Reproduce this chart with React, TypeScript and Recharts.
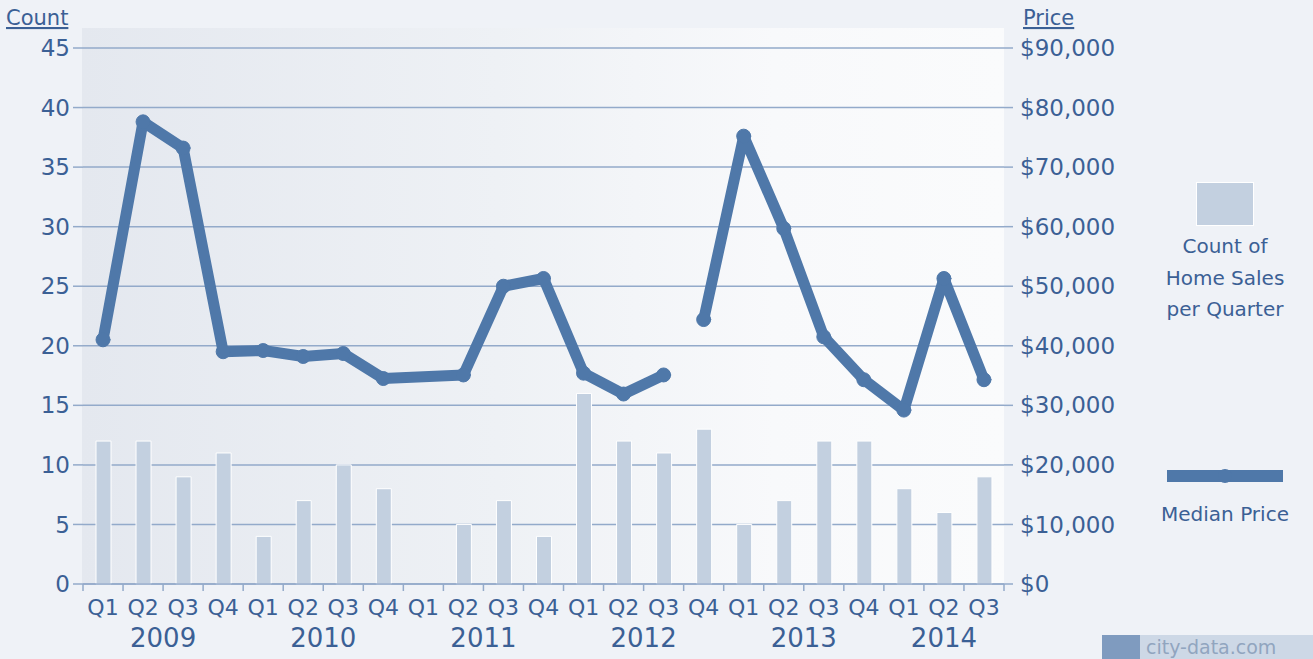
import React from 'react';
import { ComposedChart, Bar, Line, XAxis, YAxis, CartesianGrid, Legend } from 'recharts';

const quarters = ['Q1','Q2','Q3','Q4','Q1','Q2','Q3','Q4','Q1','Q2','Q3','Q4','Q1','Q2','Q3','Q4','Q1','Q2','Q3','Q4','Q1','Q2','Q3'];
const years = ['2009','2009','2009','2009','2010','2010','2010','2010','2011','2011','2011','2011','2012','2012','2012','2012','2013','2013','2013','2013','2014','2014','2014'];
const salesCount = [12, 12, 9, 11, 4, 7, 10, 8, null, 5, 7, 4, 16, 12, 11, 13, 5, 7, 12, 12, 8, 6, 9];
const medianPriceA = [41000, 77600, 73200, 39000, 39200, 38200, 38700, 34500, null, 35100, 50000, 51300, 35400, 31900, 35100, null, null, null, null, null, null, null, null];
const medianPriceB = [null, null, null, null, null, null, null, null, null, null, null, null, null, null, null, 44400, 75200, 59700, 41500, 34300, 29200, 51300, 34300];
const countTicks = [0, 5, 10, 15, 20, 25, 30, 35, 40, 45];
const priceTicks = [0, 10000, 20000, 30000, 40000, 50000, 60000, 70000, 80000, 90000];

const data = quarters.map((q, i) => ({
  key: `${years[i]} ${q}`,
  q,
  year: years[i],
  count: salesCount[i],
  priceA: medianPriceA[i],
  priceB: medianPriceB[i],
}));

const W = 1313;
const H = 659;
const LEFT_W = 83;
const RIGHT_W = 309;
const TOP = 48;
const STEP = (W - LEFT_W - RIGHT_W) / data.length;

const TEXT = '#3b6095';
const GRID = '#93aaca';
const BAR = '#c3d0e0';
const LINE = '#4f78a9';
const FONT = '"DejaVu Sans", Verdana, sans-serif';

const QuarterTick = (props: any) => {
  const { x, y, payload } = props;
  const i = payload.index;
  return (
    <g>
      <line x1={x - STEP / 2} y1={y} x2={x - STEP / 2} y2={y + 7} stroke={GRID} strokeWidth={1.5} />
      {i === data.length - 1 && (
        <line x1={x + STEP / 2} y1={y} x2={x + STEP / 2} y2={y + 7} stroke={GRID} strokeWidth={1.5} />
      )}
      <text x={x} y={y + 31} textAnchor="middle" fill={TEXT} fontSize={22} fontFamily={FONT}>
        {data[i].q}
      </text>
    </g>
  );
};

const YearTick = (props: any) => {
  const { x, y, payload } = props;
  const i = payload.index;
  const yr = data[i].year;
  if (i > 0 && data[i - 1].year === yr) return <g />;
  const n = data.filter((d) => d.year === yr).length;
  return (
    <text x={x + ((n - 1) / 2) * STEP} y={y + 29} textAnchor="middle" fill={TEXT} fontSize={26} fontFamily={FONT}>
      {yr}
    </text>
  );
};

const AxisTitle = (props: any) => {
  const { viewBox, text, side } = props;
  const vb = viewBox || { x: 0, y: TOP, width: 0 };
  const x = side === 'left' ? vb.x + 6 : vb.x + 19;
  return (
    <text x={x} y={25} textAnchor="start" fill={TEXT} fontSize={21} fontFamily={FONT} textDecoration="underline">
      {text}
    </text>
  );
};

const fmtPrice = (v: number) => '$' + v.toLocaleString('en-US');

const LegendContent = () => (
  <div style={{ position: 'relative', width: 170, height: 360, fontFamily: FONT, color: TEXT, fontSize: 20 }}>
    <div style={{ position: 'absolute', left: 56, top: 7, width: 58, height: 44, background: BAR, border: '1px solid #ffffff', boxSizing: 'border-box' }} />
    <div style={{ position: 'absolute', left: 0, top: 56, width: 170, textAlign: 'center', lineHeight: '31.5px' }}>
      Count of<br />Home Sales<br />per Quarter
    </div>
    <div style={{ position: 'absolute', left: 27, top: 295, width: 116, height: 12, background: LINE }} />
    <div style={{ position: 'absolute', left: 78, top: 294, width: 14, height: 14, borderRadius: 7, background: LINE }} />
    <div style={{ position: 'absolute', left: 0, top: 324, width: 170, textAlign: 'center', lineHeight: '31.5px' }}>
      Median Price
    </div>
  </div>
);

export default function App() {
  return (
    <div style={{ position: 'absolute', left: 0, top: 0, width: W, height: H, background: '#eff2f7', overflow: 'hidden' }}>
      <div
        style={{
          position: 'absolute',
          left: 82,
          top: 28,
          width: W - LEFT_W - RIGHT_W + 1,
          height: 556,
          background: 'linear-gradient(to right, #e4e8ef 0%, #eef1f5 45%, #f8f9fb 75%, #fafbfc 100%)',
        }}
      />
      <ComposedChart
        width={W}
        height={H}
        data={data}
        margin={{ top: TOP, right: 0, bottom: 0, left: 0 }}
        style={{ position: 'absolute', left: 0, top: 0, fontFamily: FONT }}
      >
        <CartesianGrid horizontal vertical={false} stroke={GRID} strokeWidth={1.5} yAxisId="count" />
        <XAxis
          dataKey="key"
          xAxisId={0}
          height={34}
          interval={0}
          tickSize={0}
          tickMargin={0}
          tickLine={false}
          axisLine={{ stroke: GRID, strokeWidth: 1.5 }}
          tick={<QuarterTick />}
        />
        <XAxis
          dataKey="key"
          xAxisId="year"
          height={41}
          interval={0}
          tickSize={0}
          tickMargin={0}
          tickLine={false}
          axisLine={false}
          tick={<YearTick />}
        />
        <YAxis
          yAxisId="count"
          orientation="left"
          width={LEFT_W}
          domain={[0, 45]}
          ticks={countTicks}
          interval={0}
          axisLine={false}
          tickSize={10}
          tickMargin={3}
          tickLine={{ stroke: GRID, strokeWidth: 1.5 }}
          tick={{ fill: TEXT, fontSize: 23, fontFamily: FONT }}
          label={<AxisTitle text="Count" side="left" />}
        />
        <YAxis
          yAxisId="price"
          orientation="right"
          width={RIGHT_W}
          domain={[0, 90000]}
          ticks={priceTicks}
          interval={0}
          axisLine={false}
          tickSize={9}
          tickMargin={7}
          tickLine={{ stroke: GRID, strokeWidth: 1.5 }}
          tickFormatter={fmtPrice}
          tick={{ fill: TEXT, fontSize: 23, fontFamily: FONT }}
          label={<AxisTitle text="Price" side="right" />}
        />
        <Legend
          layout="vertical"
          align="center"
          verticalAlign="middle"
          content={<LegendContent />}
          wrapperStyle={{ left: 1140, top: 175, width: 170 }}
        />
        <Bar
          yAxisId="count"
          dataKey="count"
          name="Count of Home Sales per Quarter"
          fill={BAR}
          stroke="#ffffff"
          strokeWidth={1}
          barSize={15}
          isAnimationActive={false}
        />
        <Line
          yAxisId="price"
          dataKey="priceA"
          name="Median Price"
          stroke={LINE}
          strokeWidth={11}
          strokeLinejoin="round"
          strokeLinecap="round"
          connectNulls
          dot={{ r: 7, fill: LINE, stroke: LINE, strokeWidth: 1 }}
          activeDot={false}
          isAnimationActive={false}
        />
        <Line
          yAxisId="price"
          dataKey="priceB"
          name="Median Price"
          legendType="none"
          stroke={LINE}
          strokeWidth={11}
          strokeLinejoin="round"
          strokeLinecap="round"
          dot={{ r: 7, fill: LINE, stroke: LINE, strokeWidth: 1 }}
          activeDot={false}
          isAnimationActive={false}
        />
      </ComposedChart>
      <div
        style={{
          position: 'absolute',
          left: 1102,
          top: 635,
          width: 211,
          height: 24,
          background: '#cdd8e6',
          fontFamily: FONT,
          fontSize: 19,
          color: '#91a5bf',
          lineHeight: '24px',
          display: 'flex',
          alignItems: 'center',
        }}
      >
        <div style={{ width: 38, height: 24, background: '#7f9bbf', marginRight: 6 }} />
        <span>city-data.com</span>
      </div>
    </div>
  );
}
